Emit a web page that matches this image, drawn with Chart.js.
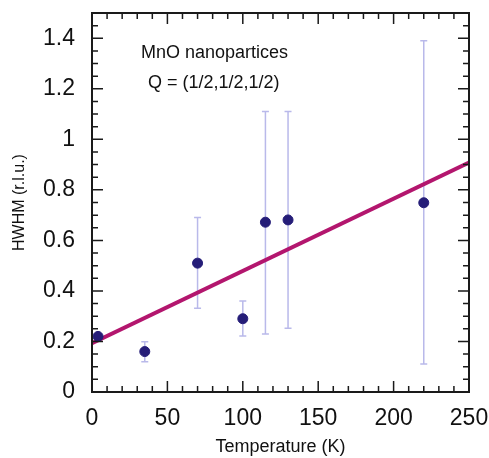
<!DOCTYPE html>
<html>
<head>
<meta charset="utf-8">
<script src="https://cdn.jsdelivr.net/npm/chart.js@4"></script>
<style>
  html, body { margin: 0; padding: 0; background: #fff; }
  #wrap { width: 489px; height: 458px; }
</style>
</head>
<body>
<div id="wrap"><canvas id="hwhmChart"></canvas></div>
<script>
// data
var temperature = [4, 35, 70, 100, 115, 130, 220];
var hwhm        = [0.22, 0.16, 0.51, 0.29, 0.672, 0.681, 0.749];
var errLow      = [0.21, 0.12, 0.331, 0.222, 0.23, 0.252, 0.111];
var errHigh     = [0.23, 0.199, 0.691, 0.36, 1.11, 1.11, 1.39];

// linear fit, endpoints at T = 0 and T = 250
var fitT = [0, 250];
var fitY = [0.193, 0.908];

var xTicks = [0, 50, 100, 150, 200, 250];
var yTicks = [0, 0.2, 0.4, 0.6, 0.8, 1, 1.2, 1.4];

var axisColor = '#1a1a1a';
var font = "'Liberation Sans', Arial, Helvetica, sans-serif";

// error bars + inward ticks on all four sides
var decorations = {
  id: 'decorations',
  beforeDatasetsDraw: function (chart) {
    var ctx = chart.ctx, xs = chart.scales.x, ys = chart.scales.y;
    ctx.save();
    ctx.strokeStyle = '#b9b9ea';
    ctx.lineWidth = 1.5;
    for (var i = 0; i < temperature.length; i++) {
      var px = xs.getPixelForValue(temperature[i]);
      var y1 = ys.getPixelForValue(errLow[i]);
      var y2 = ys.getPixelForValue(errHigh[i]);
      ctx.beginPath();
      ctx.moveTo(px, y1); ctx.lineTo(px, y2);
      ctx.moveTo(px - 3.5, y1); ctx.lineTo(px + 3.5, y1);
      ctx.moveTo(px - 3.5, y2); ctx.lineTo(px + 3.5, y2);
      ctx.stroke();
    }
    ctx.restore();
  },
  afterDraw: function (chart) {
    var ctx = chart.ctx, a = chart.chartArea, xs = chart.scales.x, ys = chart.scales.y;
    ctx.save();
    ctx.strokeStyle = axisColor;
    ctx.lineWidth = 1.5;
    ctx.beginPath();
    var v, p, len;
    for (v = 0; v <= 250; v += 10) {
      p = xs.getPixelForValue(v);
      len = (v % 50 === 0) ? 11 : 6;
      ctx.moveTo(p, a.bottom); ctx.lineTo(p, a.bottom - len);
      ctx.moveTo(p, a.top); ctx.lineTo(p, a.top + len);
    }
    for (v = 0; v <= 30; v++) {
      p = ys.getPixelForValue(v * 0.05);
      len = (v % 4 === 0) ? 11 : 6;
      ctx.moveTo(a.left, p); ctx.lineTo(a.left + len, p);
      ctx.moveTo(a.right, p); ctx.lineTo(a.right - len, p);
    }
    ctx.stroke();
    ctx.lineWidth = 2;
    ctx.strokeRect(a.left, a.top, a.right - a.left, a.bottom - a.top);

    // annotation
    ctx.fillStyle = '#111';
    ctx.font = '18px ' + font;
    ctx.textBaseline = 'middle';
    ctx.textAlign = 'left';
    ctx.fillText('MnO nanopartices', 141, 53);
    ctx.fillText('Q = (1/2,1/2,1/2)', 148, 83);
    ctx.restore();
  }
};

var ctx = document.getElementById('hwhmChart').getContext('2d');
new Chart(ctx, {
  type: 'scatter',
  data: {
    datasets: [{
      label: 'fit',
      type: 'line',
      data: fitT.map(function (t, i) { return { x: t, y: fitY[i] }; }),
      borderColor: '#b3166e',
      borderWidth: 4,
      pointRadius: 0,
      fill: false,
      order: 2
    }, {
      label: 'HWHM',
      data: temperature.map(function (t, i) { return { x: t, y: hwhm[i] }; }),
      backgroundColor: '#251d78',
      borderColor: '#251d78',
      pointRadius: 5,
      order: 1
    }]
  },
  options: {
    responsive: true,
    maintainAspectRatio: false,
    animation: false,
    layout: { padding: { top: 13, right: 20, left: 0, bottom: 0 } },
    plugins: { legend: { display: false }, tooltip: { enabled: false } },
    scales: {
      x: {
        type: 'linear',
        min: 0, max: 250,
        afterFit: function (s) { s.height = 66; s.paddingLeft = 0; s.paddingRight = 0; },
        afterBuildTicks: function (s) { s.ticks = xTicks.map(function (v) { return { value: v }; }); },
        grid: { display: false, drawTicks: false },
        border: { display: false },
        ticks: {
          padding: 13,
          color: '#111',
          font: { family: font, size: 23 },
          maxRotation: 0,
          callback: function (v) { return String(v); }
        },
        title: {
          display: true,
          text: 'Temperature (K)',
          color: '#111',
          font: { family: font, size: 18 },
          padding: { top: 0, bottom: 0 }
        }
      },
      y: {
        type: 'linear',
        min: 0, max: 1.5,
        afterFit: function (s) { s.width = 92; s.paddingTop = 0; s.paddingBottom = 0; },
        afterBuildTicks: function (s) { s.ticks = yTicks.map(function (v) { return { value: v }; }); },
        grid: { display: false, drawTicks: false },
        border: { display: false },
        ticks: {
          padding: 17,
          color: '#111',
          font: { family: font, size: 23 },
          callback: function (v) { return String(Math.round(v * 10) / 10); }
        },
        title: {
          display: true,
          text: 'HWHM (r.l.u.)',
          color: '#111',
          font: { family: font, size: 16 },
          padding: { top: 10, bottom: 0 }
        }
      }
    }
  },
  plugins: [decorations]
});
</script>
</body>
</html>
